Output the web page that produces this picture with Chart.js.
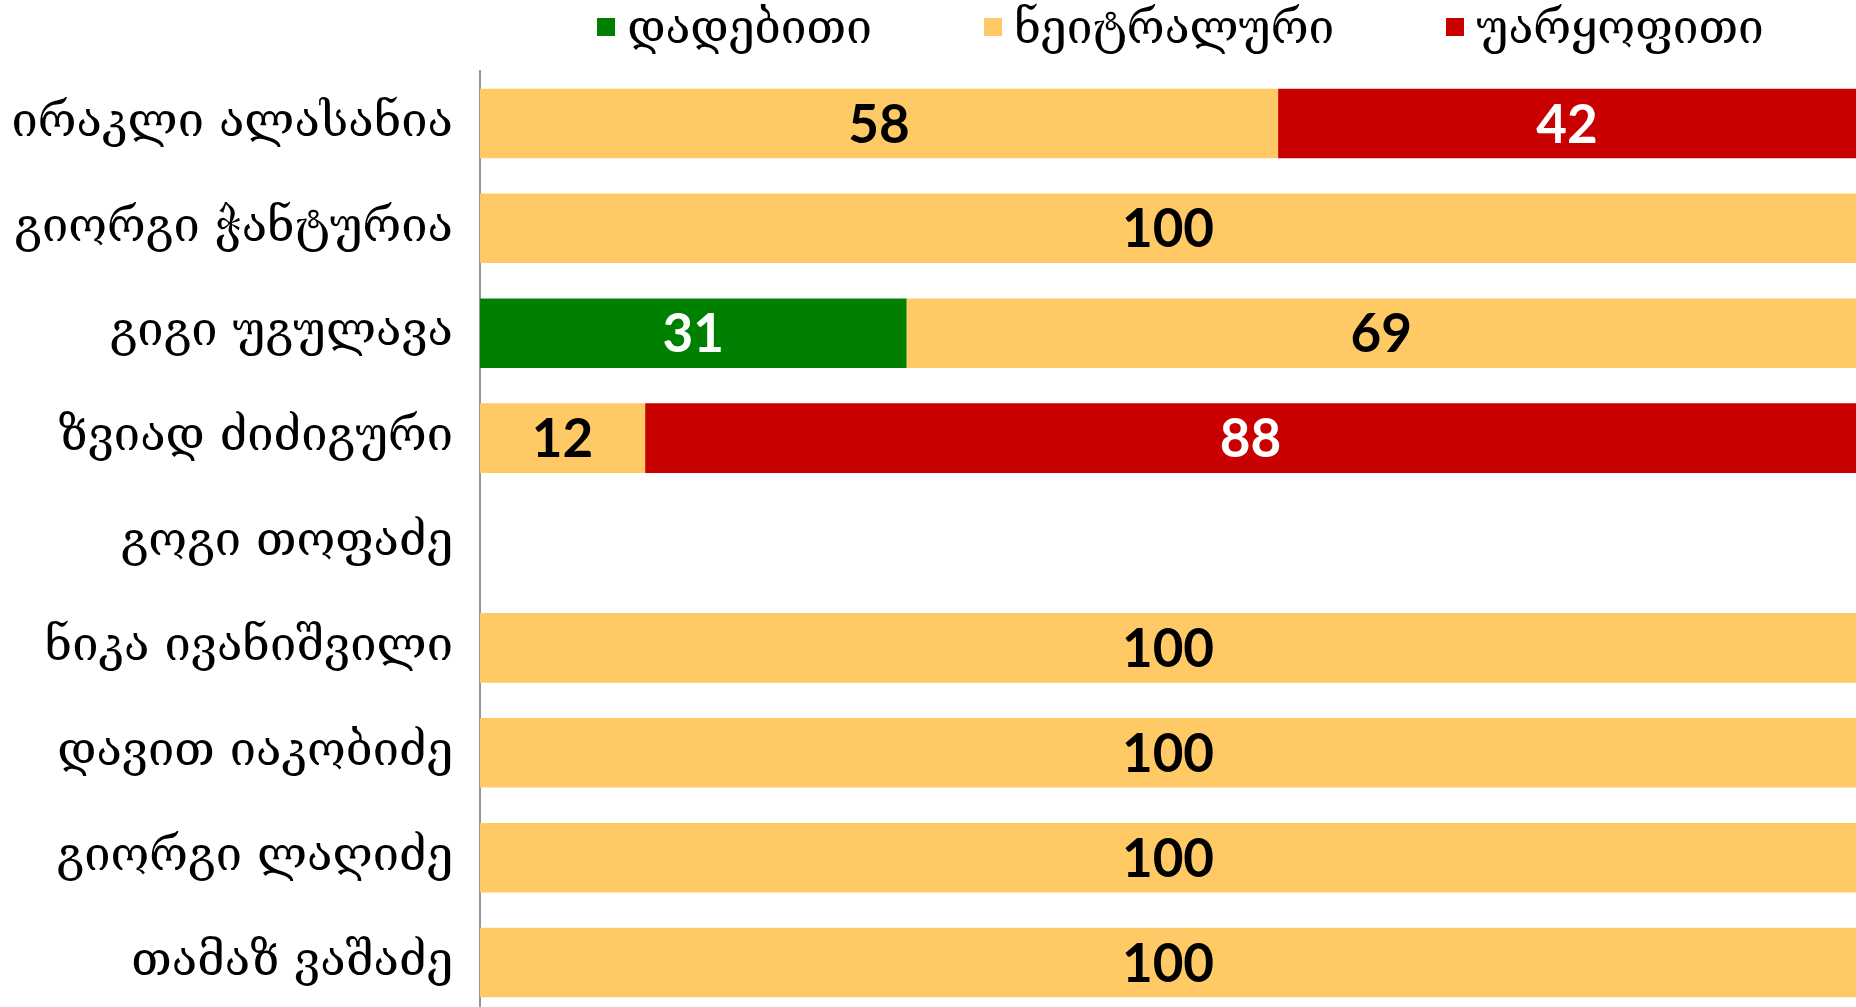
<!DOCTYPE html>
<html>
<head>
<meta charset="utf-8">
<title>შეფასებები</title>
<script src="https://cdn.jsdelivr.net/npm/chart.js@4.4.0/dist/chart.umd.min.js"></script>
<style>
    body { margin: 0; overflow: hidden; background: #fff; }
    #wrap { position: absolute; left: 0; top: 0; width: 1856px; height: 1015px; }
    #ratingChart { position: absolute; left: 0; top: 0; }
    #legend {
        position: absolute; top: 0; left: 505px; right: 0; height: 53px;
        display: flex; justify-content: center; align-items: center; gap: 112px;
        font-family: 'DejaVu Serif'; font-size: 46px; color: #000; z-index: 2;
    }
    #legend .item { display: flex; align-items: center; white-space: nowrap; }
    #legend .swatch { width: 18px; height: 18px; margin-right: 12px; }
</style>
</head>
<body>
<div id="wrap">
    <canvas id="ratingChart" width="1856" height="1015"></canvas>
    <div id="legend"></div>
</div>
<script>
// Data
const categories = [
    'ირაკლი ალასანია',
    'გიორგი ჭანტურია',
    'გიგი უგულავა',
    'ზვიად ძიძიგური',
    'გოგი თოფაძე',
    'ნიკა ივანიშვილი',
    'დავით იაკობიძე',
    'გიორგი ლაღიძე',
    'თამაზ ვაშაძე'
];
const positive = [null, null, 31, null, null, null, null, null, null];
const neutral  = [58, 100, 69, 12, null, 100, 100, 100, 100];
const negative = [42, null, null, 88, null, null, null, null, null];

const seriesNames  = ['დადებითი', 'ნეიტრალური', 'უარყოფითი'];
const seriesColors = ['#008000', '#FFC966', '#C80000'];
const valueColors  = ['#ffffff', '#000000', '#ffffff'];

// Value labels in the middle of each bar piece
const barValueLabels = {
    id: 'barValueLabels',
    afterDatasetsDraw(chart) {
        const ctx = chart.ctx;
        ctx.save();
        ctx.font = 'bold 53px Lato';
        ctx.textAlign = 'center';
        ctx.textBaseline = 'middle';
        chart.data.datasets.forEach((ds, i) => {
            const meta = chart.getDatasetMeta(i);
            meta.data.forEach((bar, j) => {
                const v = ds.data[j];
                if (v == null) return;
                const p = bar.getCenterPoint();
                ctx.fillStyle = valueColors[i];
                ctx.fillText(String(v), p.x, p.y + 2);
            });
        });
        ctx.restore();
    }
};

// Legend as html above the plot area
const htmlLegend = {
    id: 'htmlLegend',
    afterUpdate(chart) {
        const box = document.getElementById('legend');
        box.innerHTML = '';
        chart.options.plugins.legend.labels.generateLabels(chart).forEach(item => {
            const el = document.createElement('div');
            el.className = 'item';
            el.innerHTML = `<span class="swatch" style="background:${item.fillStyle}"></span><span>${item.text}</span>`;
            box.appendChild(el);
        });
    }
};

const ctx = document.getElementById('ratingChart').getContext('2d');
new Chart(ctx, {
    type: 'bar',
    data: {
        labels: categories,
        datasets: [positive, neutral, negative].map((d, i) => ({
            label: seriesNames[i],
            data: d,
            backgroundColor: seriesColors[i],
            borderWidth: 0,
            barPercentage: 0.663,
            categoryPercentage: 1
        }))
    },
    options: {
        indexAxis: 'y',
        responsive: false,
        animation: false,
        layout: { padding: { top: 71, left: 0, right: 0, bottom: 0 } },
        plugins: {
            legend: { display: false },
            tooltip: { enabled: false }
        },
        scales: {
            x: {
                stacked: true,
                min: 0,
                max: 100,
                display: false
            },
            y: {
                stacked: true,
                grid: { display: false, drawTicks: false },
                border: { display: true, color: '#959595', width: 2 },
                ticks: {
                    color: '#000',
                    padding: 27,
                    font: { family: 'DejaVu Serif', size: 47 }
                },
                afterFit(scale) {
                    // fixed label column, bars run to the bottom edge
                    scale.width = 480;
                    scale.paddingTop = 0;
                    scale.paddingBottom = 0;
                }
            }
        }
    },
    plugins: [barValueLabels, htmlLegend]
});
</script>
</body>
</html>
